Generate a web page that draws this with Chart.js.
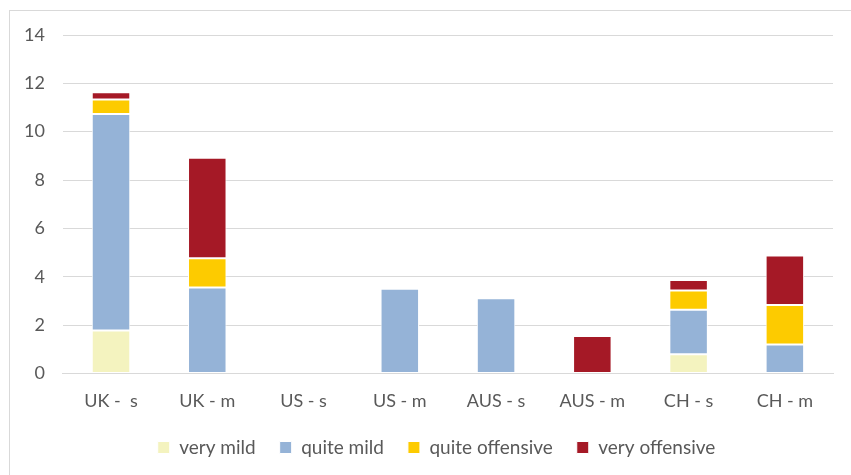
<!DOCTYPE html>
<html>
<head>
<meta charset="utf-8">
<script src="https://cdn.jsdelivr.net/npm/chart.js@4"></script>
<style>
  html, body { margin: 0; padding: 0; background: #fff; }
  #wrap { position: absolute; left: 0; top: 0; width: 851px; height: 475px; }
  #frame { position: absolute; left: 9px; top: 10px; width: 850px; height: 480px;
           border: 1px solid #d9d9d9; box-sizing: border-box; }
  canvas { position: absolute; left: 0; top: 0; }
</style>
</head>
<body>
<div id="wrap">
  <div id="frame"></div>
  <canvas id="chart" width="851" height="475"></canvas>
</div>
<script>
// categories + series
const categories = ["UK -  s", "UK - m", "US - s", "US - m", "AUS - s", "AUS - m", "CH - s", "CH - m"];
const veryMild = [1.77, 0, 0, 0, 0, 0, 0.79, 0];
const quiteMild = [8.96, 3.55, 0, 3.5, 3.11, 0, 1.84, 1.2];
const quiteOffensive = [0.6, 1.21, 0, 0, 0, 0, 0.8, 1.63];
const veryOffensive = [0.3, 4.16, 0, 0, 0, 1.55, 0.43, 2.05];
const yTicks = [0, 2, 4, 6, 8, 10, 12, 14];

const FONT = "Lato, 'Noto Sans', sans-serif";
const TEXT = "#595959";
const GRID = "#d9d9d9";

const makeSet = (label, data, color) => ({
    label: label,
    data: data,
    backgroundColor: color,
    borderColor: "#ffffff",
    borderWidth: 1,
    borderSkipped: false,
    barPercentage: 0.4,
    categoryPercentage: 1.0,
});

// nudge the legend a bit to the right, like the original
const legendShift = {
    id: "legendShift",
    afterLayout(chart) {
        chart.legend.left += 17;
        chart.legend.right += 17;
    },
};

const ctx = document.getElementById("chart").getContext("2d");
new Chart(ctx, {
    type: "bar",
    data: {
        labels: categories,
        datasets: [
            makeSet("very mild", veryMild, "#f4f3bf"),
            makeSet("quite mild", quiteMild, "#95b3d7"),
            makeSet("quite offensive", quiteOffensive, "#fdcb00"),
            makeSet("very offensive", veryOffensive, "#a51926"),
        ],
    },
    plugins: [legendShift],
    options: {
        responsive: false,
        animation: false,
        layout: { padding: { left: 6, right: 18, top: 35, bottom: 8 } },
        plugins: {
            tooltip: { enabled: false },
            legend: {
                position: "bottom",
                labels: {
                    color: TEXT,
                    font: { family: FONT, size: 19 },
                    boxWidth: 12,
                    boxHeight: 12,
                    padding: 24,
                },
            },
        },
        scales: {
            x: {
                stacked: true,
                grid: { display: false },
                border: { color: GRID },
                ticks: { color: TEXT, font: { family: FONT, size: 18 }, padding: 9 },
                afterFit: (scale) => {
                    scale.height -= 7;
                },
            },
            y: {
                stacked: true,
                min: 0,
                max: 14,
                afterBuildTicks: (axis) => {
                    axis.ticks = yTicks.map((v) => ({ value: v }));
                },
                grid: { color: GRID, lineWidth: 1, drawTicks: false },
                border: { display: false },
                ticks: { color: TEXT, font: { family: FONT, size: 18 }, padding: 18 },
            },
        },
    },
});
</script>
</body>
</html>
